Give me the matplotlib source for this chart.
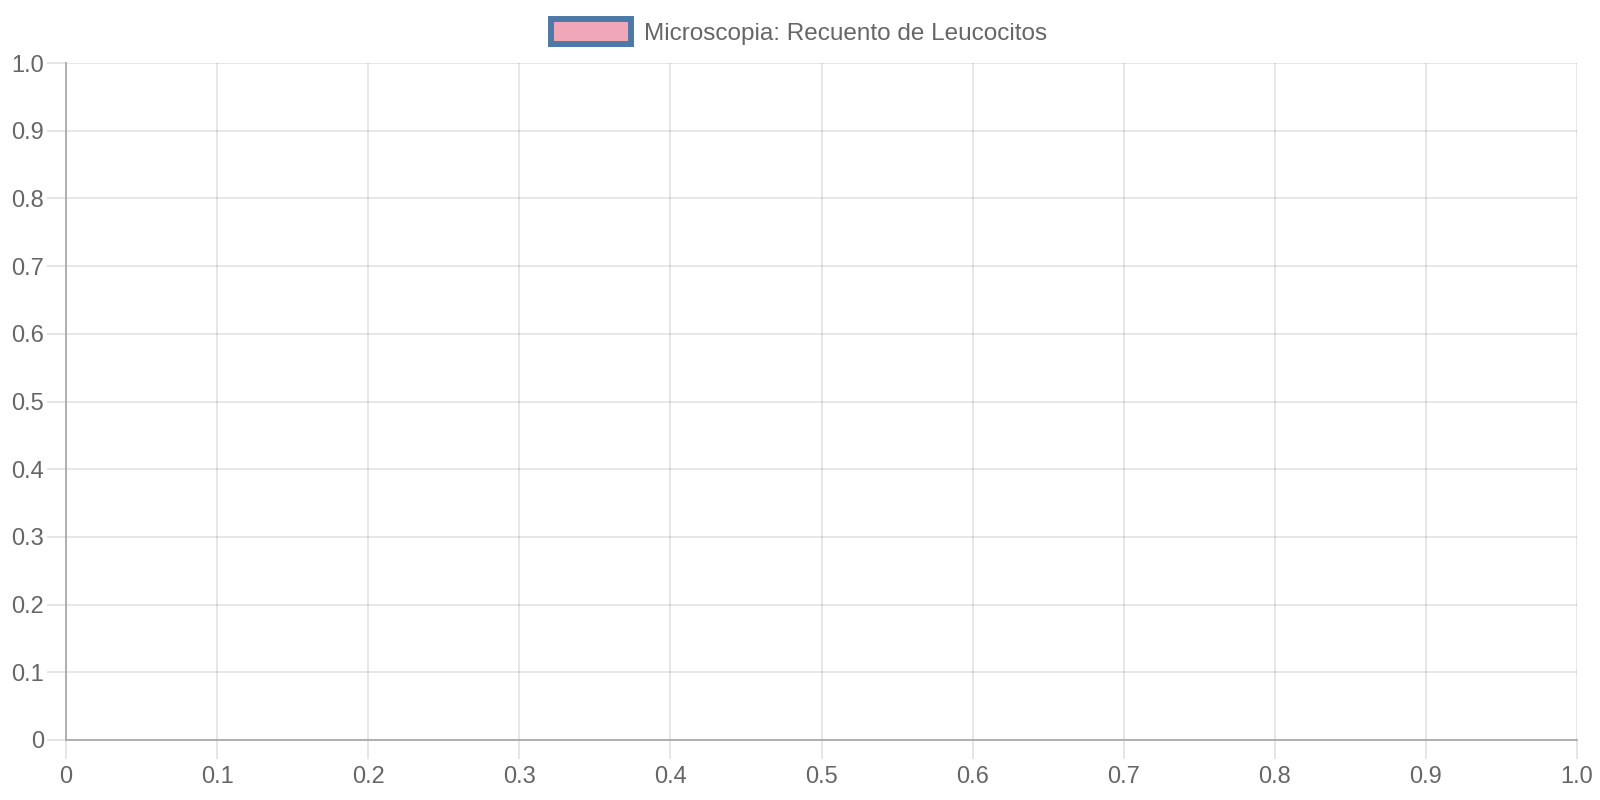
import numpy as np
import matplotlib.pyplot as plt
from matplotlib.patches import Patch

plt.rcParams['font.family'] = ['Liberation Sans', 'DejaVu Sans']

# the dataset has no points at all, so the chart is empty
labels = []
values = []
series_name = 'Microscopia: Recuento de Leucocitos'
tick_vals = [0, 0.1, 0.2, 0.3, 0.4, 0.5, 0.6, 0.7, 0.8, 0.9, 1.0]
tick_text = ['0', '0.1', '0.2', '0.3', '0.4', '0.5', '0.6', '0.7', '0.8', '0.9', '1.0']

fill = '#f0a8b8'
edge = '#4e79a7'
txt = '#666666'

fig = plt.figure(figsize=(16, 8), dpi=100)
ax = fig.add_axes([0.04125, 0.075, 0.9444, 0.84625])

ax.bar(labels, values, color=fill, edgecolor=edge)

ax.set_xlim(0, 1)
ax.set_ylim(0, 1)
ax.set_xticks(tick_vals, tick_text)
ax.set_yticks(tick_vals, tick_text)
ax.grid(True, color='black', alpha=0.1, linewidth=1.3)
ax.set_axisbelow(True)
ax.tick_params(length=14, width=1.3, color='#e3e3e3', labelsize=17, labelcolor=txt, pad=2)
ax.tick_params(axis='x', pad=4.5)

for s in ['top', 'right']:
    ax.spines[s].set_visible(False)
for s in ['left', 'bottom']:
    ax.spines[s].set_color('#aaaaaa')
    ax.spines[s].set_linewidth(1.3)

handle = Patch(facecolor=fill, edgecolor=edge, linewidth=4.3)
fig.legend([handle], [series_name], loc='center', bbox_to_anchor=(0.4995, 0.96),
           frameon=False, fontsize=17.5, labelcolor=txt,
           handlelength=3.3, handleheight=1.2, handletextpad=0.55)

plt.savefig('out.png')
